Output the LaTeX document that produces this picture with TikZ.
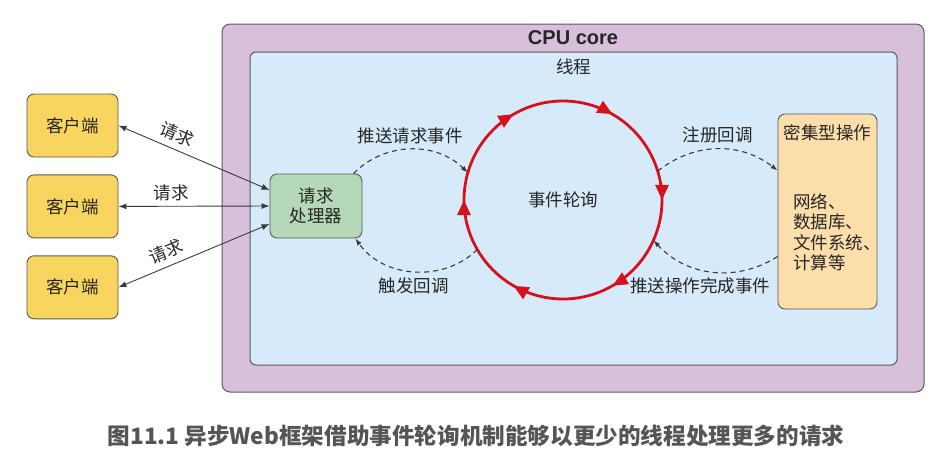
\documentclass[tikz,border=0pt]{standalone}
\usepackage{fontspec}
\newfontfamily\cjk{Noto Sans CJK SC}
\newfontfamily\latinsans{Liberation Sans}
\usetikzlibrary{positioning,arrows.meta,decorations.markings}
\definecolor{cpupurple}{HTML}{D8BFDC}
\definecolor{threadblue}{HTML}{D6EAFA}
\definecolor{clientyellow}{HTML}{F8D55E}
\definecolor{handlergreen}{HTML}{B5D8B8}
\definecolor{opsorange}{HTML}{FBDEAA}
\definecolor{loopred}{HTML}{D7101E}
\definecolor{boxline}{HTML}{5A5A5A}
\definecolor{linegray}{HTML}{3A3A3A}
\definecolor{captiongray}{HTML}{555555}
\tikzset{
  lbl/.style={font=\cjk\fontsize{17.5}{20.5}\selectfont, text=black!85},
  roundbox/.style={draw=boxline, line width=0.9pt, rounded corners=7pt, lbl, align=center},
  client/.style={roundbox, fill=clientyellow, minimum width=91pt, minimum height=63pt},
  handlerbox/.style={roundbox, fill=handlergreen, minimum width=92pt, minimum height=64pt},
  opsbox/.style={roundbox, fill=opsorange, minimum width=99pt, minimum height=195pt},
  cpuframe/.style={draw=boxline, line width=1pt, rounded corners=8pt, inner sep=0pt},
  req/.style={{Latex[length=8pt,width=6pt]}-{Latex[length=8pt,width=6pt]}, line width=0.9pt, draw=linegray},
  cb/.style={-{Latex[length=7pt,width=5pt]}, dashed, dash pattern=on 5pt off 4pt, line width=1.1pt, draw=linegray},
  loopline/.style={draw=loopred, line width=2.8pt,
    decoration={markings, mark=between positions 1/12 and 1 step 1/6 with {\arrow{Triangle[length=15pt,width=13pt]}}},
    postaction=decorate},
  cputitle/.style={font=\latinsans\bfseries\fontsize{20}{24}\selectfont, text=black!85},
  figcaption/.style={font=\cjk\bfseries\fontsize{22.6}{26}\selectfont, text=captiongray}
}

\begin{document}
\begin{tikzpicture}[x=1pt, y=-1pt]
  \useasboundingbox (0,0) rectangle (948,472);

  % CPU core and thread frames
  \node (cpu) [cpuframe, fill=cpupurple, minimum width=702pt, minimum height=368pt] at (573,208) {};
  \node (thread) [cpuframe, fill=threadblue, rounded corners=6pt, minimum width=647pt, minimum height=313pt] at (573.5,208.5) {};
  \node [cputitle] at ([yshift=-14pt]cpu.north) {CPU core};
  \node [lbl] at ([yshift=-15.5pt]thread.north) {线程};

  % clients
  \node (client1) [client] at (72.5,125.5) {客户端};
  \node (client2) [client, below=17pt of client1] {客户端};
  \node (client3) [client, below=17pt of client2] {客户端};

  \node (handler) [handlerbox] at (316,206) {请求\\处理器};

  \node (ops) [opsbox] at (827.5,211.5) {};
  \node [lbl] at ([yshift=-19pt]ops.north) {密集型操作};
  \node [lbl, anchor=west, align=left] at ([xshift=12pt,yshift=-20.5pt]ops.west) {网络、\\数据库、\\文件系统、\\计算等};

  % event loop
  \node (loop) [circle, minimum size=198pt, inner sep=0pt, outer sep=0pt, lbl] at (563,200) {事件轮询};
  \draw [loopline] (loop.210) arc[start angle=210, end angle=-150, radius=99pt];

  \draw [req] (client1.east) -- node[lbl, pos=0.35, above=3pt, sloped] {请求} ([yshift=16pt]handler.west);
  \draw [req] (client2.east) -- node[lbl, pos=0.35, above=2pt] {请求} (handler.west);
  \draw [req] (client3.east) -- node[lbl, pos=0.35, above=3pt, sloped] {请求} ([yshift=-18pt]handler.west);

  \draw [cb] ([xshift=-9pt]handler.north east) to[bend left=45] node[lbl, above=2pt] {推送请求事件} (loop.164);
  \draw [cb] (loop.210) to[bend left=50] node[lbl, below=2pt] {触发回调} ([xshift=-7pt]handler.south east);
  \draw [cb] (loop.17) to[bend left=38] node[lbl, above=2pt] {注册回调} ([yshift=41pt]ops.west);
  \draw [cb] ([yshift=-45pt]ops.west) to[bend left=40] node[lbl, below=2pt, xshift=-12pt] {推送操作完成事件} (loop.-24);

  \node [figcaption] at (476,436) {图11.1 异步Web框架借助事件轮询机制能够以更少的线程处理更多的请求};
\end{tikzpicture}
\end{document}
